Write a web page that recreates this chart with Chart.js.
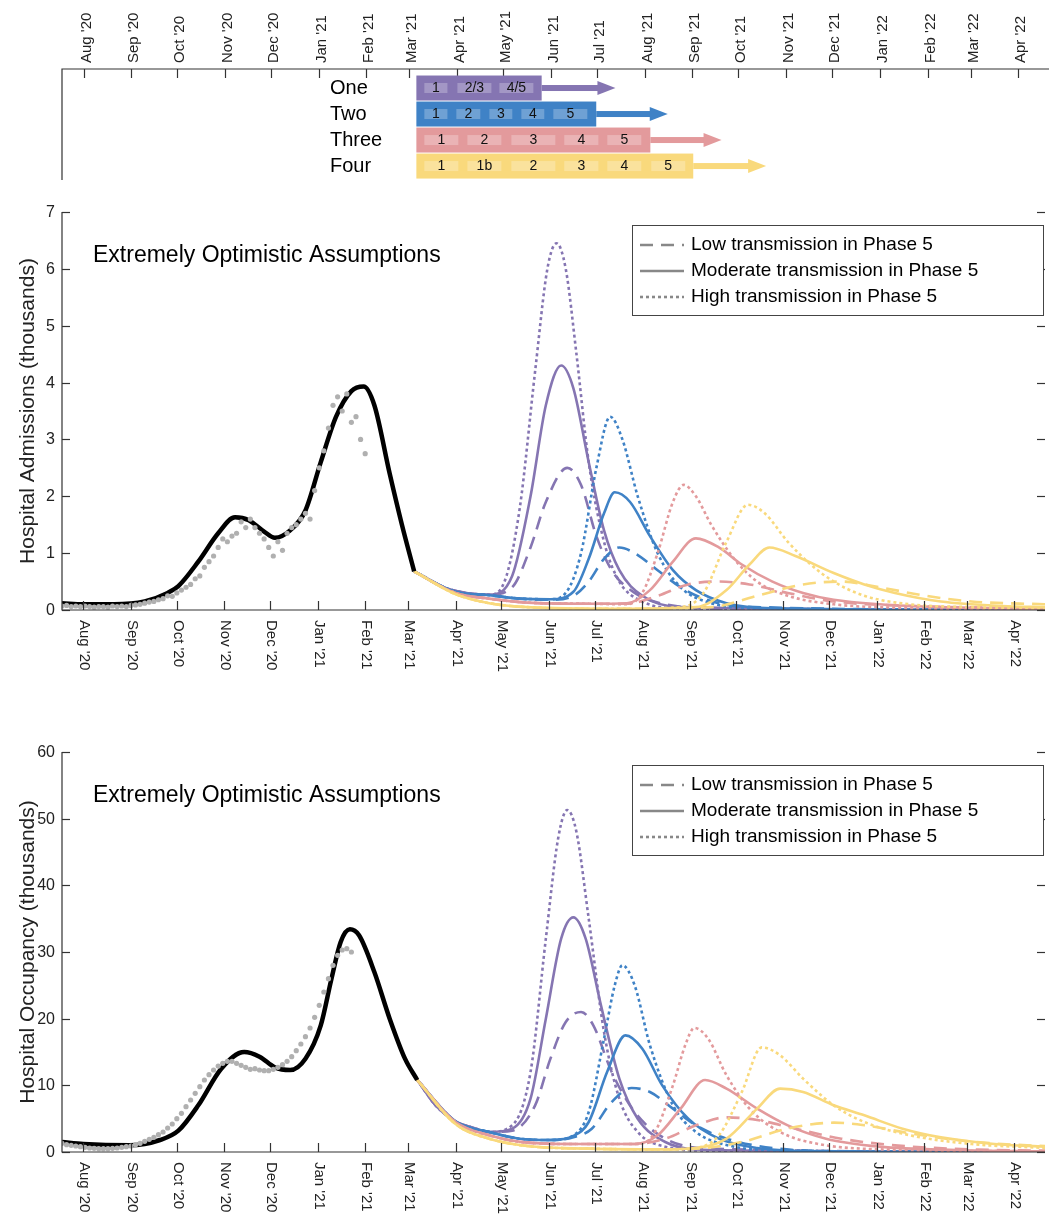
<!DOCTYPE html>
<html><head><meta charset="utf-8">
<script src="https://cdn.jsdelivr.net/npm/chart.js@4.4.1/dist/chart.umd.min.js"></script>
<style>
body{margin:0;background:#fff;width:1049px;height:1214px;position:relative;overflow:hidden}
canvas{position:absolute;left:0}
#road{top:0px}
#adm{top:195px}
#occ{top:735px}
</style></head><body>
<canvas id="road" width="1049" height="185"></canvas>
<canvas id="adm" width="1049" height="495"></canvas>
<canvas id="occ" width="1049" height="479"></canvas>
<script>
// x is days since 1 Aug 2020
const X_MIN = -14, X_MAX = 628;
const monthDays = [0,31,61,92,122,153,184,212,243,273,304,334,365,396,426,457,487,518,549,577,608];
const monthLabels = ["Aug '20","Sep '20","Oct '20","Nov '20","Dec '20","Jan '21","Feb '21","Mar '21","Apr '21","May '21","Jun '21","Jul '21","Aug '21","Sep '21","Oct '21","Nov '21","Dec '21","Jan '22","Feb '22","Mar '22","Apr '22"];

const PURPLE='#8575b2', BLUE='#3f82c6', PINK='#e39a9c', YELLOW='#f9d97c';

// roadmap
const roadNames = ['One','Two','Three','Four'];
const roadColors = [PURPLE, BLUE, PINK, YELLOW];
const roadStart = 216.5;
const roadEnd = [298, 333.5, 368.7, 396.6];
const roadArrow = [346, 380, 415, 444];
const stepLabels = [['1','2/3','4/5'],['1','2','3','4','5'],['1','2','3','4','5'],['1','1b','2','3','4','5']];
const stepFrom = [[221.7,243.2,270.5],[221.7,242.5,264,284.8,305.6],[221.7,249.7,278.3,312.7,340.7],[221.7,249.7,278.3,312.7,340.7,369.3]];
const stepTo = [[236.7,265.3,292.6],[236.7,258.1,278.9,299.7,327.7],[243.8,271.8,306.9,334.9,362.8],[243.8,271.8,306.9,334.9,362.8,391.4]];

// admissions (thousands)
const admFit = [[-14,0.12],[0,0.1],[20,0.1],[40,0.15],[55,0.3],[62,0.42],[75,0.85],[88,1.35],[99,1.63],[108,1.58],[118,1.38],[125,1.27],[135,1.4],[145,1.75],[155,2.6],[165,3.4],[175,3.85],[183,3.93],[190,3.6],[200,2.4],[208,1.5],[216,0.68]];
const admData = [0.07,0.08,0.06,0.07,0.06,0.07,0.06,0.05,0.06,0.06,0.05,0.07,0.06,0.07,0.06,0.08,0.09,0.1,0.12,0.14,0.15,0.18,0.2,0.25,0.24,0.3,0.35,0.4,0.45,0.55,0.6,0.75,0.85,0.95,1.1,1.25,1.2,1.3,1.35,1.55,1.45,1.6,1.45,1.35,1.25,1.1,0.95,1.2,1.05,1.35,1.45,1.5,1.6,1.7,1.6,2.1,2.5,2.8,3.2,3.6,3.75,3.5,3.8,3.3,3.4,3.0,2.75];
const admPurpleLow = [[216,0.68],[235,0.4],[250,0.3],[265,0.27],[280,0.4],[292,1.1],[302,1.9],[316,2.5],[325,2.2],[335,1.3],[345,0.7],[360,0.3],[380,0.1],[420,0.02],[628,0]];
const admPurpleMod = [[216,0.68],[235,0.4],[250,0.3],[265,0.27],[280,0.6],[292,2.0],[302,3.6],[312,4.3],[320,3.9],[330,2.6],[340,1.4],[350,0.7],[365,0.25],[390,0.05],[628,0]];
const admPurpleHigh = [[216,0.68],[235,0.4],[250,0.3],[265,0.27],[275,0.5],[285,1.8],[295,4.2],[303,6.0],[309,6.45],[315,6.0],[322,4.5],[330,2.6],[340,1.2],[350,0.5],[365,0.15],[390,0.03],[628,0]];
const admBlueLow = [[216,0.68],[243,0.32],[265,0.26],[285,0.2],[305,0.18],[320,0.25],[330,0.5],[340,0.9],[350,1.1],[360,1.0],[375,0.7],[390,0.4],[405,0.2],[430,0.06],[628,0]];
const admBlueMod = [[216,0.68],[243,0.32],[265,0.26],[285,0.2],[305,0.19],[320,0.32],[330,0.9],[340,1.7],[347,2.07],[357,1.9],[370,1.3],[385,0.7],[400,0.35],[420,0.12],[450,0.03],[628,0]];
const admBlueHigh = [[216,0.68],[243,0.32],[265,0.26],[285,0.2],[305,0.19],[315,0.3],[325,1.0],[335,2.5],[344,3.4],[352,3.0],[362,2.0],[375,1.0],[390,0.4],[410,0.12],[440,0.03],[628,0]];
const admPinkLow = [[216,0.68],[243,0.3],[265,0.2],[290,0.13],[330,0.11],[355,0.11],[375,0.25],[395,0.45],[415,0.5],[435,0.45],[460,0.3],[490,0.15],[530,0.08],[628,0.03]];
const admPinkMod = [[216,0.68],[243,0.3],[265,0.2],[290,0.13],[330,0.11],[355,0.12],[370,0.35],[385,0.85],[400,1.26],[415,1.1],[430,0.8],[450,0.5],[470,0.3],[490,0.18],[520,0.1],[560,0.05],[628,0.02]];
const admPinkHigh = [[216,0.68],[243,0.3],[265,0.2],[290,0.13],[330,0.11],[355,0.1],[365,0.3],[375,1.0],[385,1.9],[392,2.2],[400,2.0],[410,1.5],[425,0.9],[440,0.5],[460,0.25],[490,0.1],[530,0.04],[628,0]];
const admYellowLow = [[216,0.68],[243,0.28],[265,0.12],[290,0.05],[350,0.02],[410,0.05],[440,0.25],[470,0.45],[495,0.5],[520,0.4],[550,0.25],[580,0.15],[628,0.1]];
const admYellowMod = [[216,0.68],[243,0.28],[265,0.12],[290,0.05],[350,0.02],[400,0.05],[420,0.35],[435,0.8],[448,1.1],[465,0.95],[490,0.65],[510,0.45],[530,0.3],[560,0.15],[600,0.07],[628,0.05]];
const admYellowHigh = [[216,0.68],[243,0.28],[265,0.12],[290,0.05],[350,0.02],[390,0.05],[405,0.3],[420,1.2],[434,1.85],[445,1.7],[460,1.2],[475,0.8],[490,0.5],[510,0.25],[540,0.1],[580,0.05],[628,0.03]];

// occupancy (thousands)
const occFit = [[-14,1.5],[0,1.2],[30,1.0],[50,1.8],[62,3.2],[75,7],[90,12.5],[105,15],[115,14.3],[125,12.7],[135,12.3],[145,14],[155,19],[162,26],[168,31.5],[174,33.4],[180,32.5],[190,27],[200,20],[210,14],[218,10.8]];
const occData = [1.3,1.1,1.0,0.9,0.8,0.7,0.6,0.55,0.5,0.5,0.5,0.55,0.6,0.7,0.8,0.9,1.1,1.3,1.6,1.9,2.2,2.6,3.0,3.6,4.2,5.0,5.8,6.8,7.8,8.8,9.8,10.8,11.6,12.3,12.9,13.3,13.6,13.6,13.3,13,12.7,12.4,12.5,12.3,12.2,12.2,12.4,12.7,13.1,13.6,14.3,15.2,16.2,17.3,18.6,20.2,22,24,26,28,29.5,30.3,30.5,30];
const occPurpleLow = [[218,10.8],[230,7],[243,4.6],[255,3.6],[265,3.0],[280,3.2],[295,7],[305,14],[315,19.5],[325,21],[333,19],[345,12],[360,6],[380,2],[410,0.5],[628,0]];
const occPurpleMod = [[218,10.8],[230,7],[243,4.6],[255,3.6],[265,3.0],[280,3.5],[292,8],[302,20],[312,32],[320,35.2],[328,32],[338,22],[350,11],[362,5],[380,1.5],[410,0.3],[628,0]];
const occPurpleHigh = [[218,10.8],[230,7],[243,4.6],[255,3.6],[265,3.0],[280,4],[292,12],[302,32],[310,47],[316,51.3],[322,48],[330,35],[340,18],[350,8],[362,3],[380,0.8],[410,0.2],[628,0]];
const occBlueLow = [[218,10.8],[243,4.6],[265,3.0],[285,2.0],[305,1.8],[320,2.2],[332,3.5],[345,7.5],[358,9.6],[370,9],[385,6.5],[400,4],[420,2],[450,0.6],[500,0.1],[628,0]];
const occBlueMod = [[218,10.8],[243,4.6],[265,3.0],[285,2.0],[305,1.8],[320,2.4],[330,4.5],[342,12],[354,17.5],[365,15.5],[378,10],[395,5],[415,2],[440,0.6],[480,0.1],[628,0]];
const occBlueHigh = [[218,10.8],[243,4.6],[265,3.0],[285,2.0],[305,1.8],[320,2.5],[330,6],[340,17],[347,25],[352,28],[360,25],[370,16],[385,7],[400,3],[425,0.8],[460,0.2],[628,0]];
const occPinkLow = [[218,10.8],[243,4.5],[265,2.5],[290,1.4],[320,1.2],[360,1.2],[380,2],[400,4],[420,5.2],[440,4.8],[465,3.5],[495,2],[530,1],[580,0.4],[628,0.2]];
const occPinkMod = [[218,10.8],[243,4.5],[265,2.5],[290,1.4],[320,1.2],[360,1.2],[375,2.5],[390,6.5],[406,10.8],[420,9.5],[440,6.5],[460,4],[485,2],[520,0.8],[570,0.3],[628,0.1]];
const occPinkHigh = [[218,10.8],[243,4.5],[265,2.5],[290,1.4],[320,1.2],[360,1.2],[372,2.5],[385,10],[393,16],[399,18.6],[408,17],[420,11.5],[435,6.5],[455,3],[480,1.2],[520,0.4],[628,0.1]];
const occYellowLow = [[218,10.8],[243,4.2],[265,2.0],[290,0.9],[330,0.5],[380,0.4],[400,0.5],[430,1.5],[460,3.5],[490,4.4],[510,4],[540,2.8],[570,1.8],[600,1.2],[628,0.9]];
const occYellowMod = [[218,10.8],[243,4.2],[265,2.0],[290,0.9],[330,0.5],[380,0.4],[400,0.6],[420,2],[440,6.5],[455,9.5],[470,9],[490,7],[510,5.5],[535,3.5],[560,2.2],[595,1.2],[628,0.8]];
const occYellowHigh = [[218,10.8],[243,4.2],[265,2.0],[290,0.9],[330,0.5],[380,0.4],[400,0.6],[415,2.5],[430,9],[443,15.7],[455,14.5],[470,11],[490,7],[510,4.5],[540,2.5],[580,1.2],[628,0.6]];

const legendLabels = ['Low transmission in Phase 5','Moderate transmission in Phase 5','High transmission in Phase 5'];
const FONT = '"Liberation Sans", Arial, sans-serif';
const DASH = {low:[13,8], mod:[], high:[3,3]};

const pts = a => a.map(p => ({x:p[0], y:p[1]}));
const line = (d, color, style, w) => ({data:pts(d), borderColor:color, borderWidth:w||2.6, borderDash:DASH[style]||[], pointRadius:0, cubicInterpolationMode:'monotone', fill:false});

// draws MATLAB-like axes: inward ticks, rotated month labels, title, legend
const frame = {
  id:'frame',
  afterDraw(chart, args, o){
    const c = chart.ctx, a = chart.chartArea, xs = chart.scales.x, ys = chart.scales.y;
    c.save();
    c.strokeStyle = '#333'; c.lineWidth = 1.2; c.fillStyle = '#222';
    c.beginPath();
    if (o.top){ c.moveTo(a.left, a.bottom); c.lineTo(a.left, a.top); c.lineTo(a.right, a.top); }
    else { c.moveTo(a.left, a.top); c.lineTo(a.left, a.bottom); c.lineTo(a.right, a.bottom); }
    c.stroke();
    c.font = '15px ' + FONT;
    monthDays.forEach((d, i) => {
      const px = Math.round(xs.getPixelForValue(d)) + 0.5;
      c.beginPath();
      if (o.top){ c.moveTo(px, a.top); c.lineTo(px, a.top + 9); }
      else { c.moveTo(px, a.bottom); c.lineTo(px, a.bottom - 9); }
      c.stroke();
      c.save();
      if (o.top){
        c.translate(px + 2, a.top - 6); c.rotate(-Math.PI/2);
      } else {
        c.translate(px + 1, a.bottom + 10); c.rotate(Math.PI/2);
      }
      c.textAlign = 'left'; c.textBaseline = 'middle';
      c.fillText(monthLabels[i], 0, 0);
      c.restore();
    });
    if (!o.top){
      c.font = '16px ' + FONT; c.textAlign = 'right'; c.textBaseline = 'middle';
      for (let v = ys.min; v <= ys.max; v += o.step){
        const py = Math.round(ys.getPixelForValue(v)) + 0.5;
        c.beginPath(); c.moveTo(a.left, py); c.lineTo(a.left + 8, py); c.stroke();
        c.beginPath(); c.moveTo(a.right, py); c.lineTo(a.right - 8, py); c.stroke();
        c.fillText(String(v), a.left - 7, py);
      }
      c.save();
      c.font = '21px ' + FONT; c.textAlign = 'center'; c.textBaseline = 'middle';
      c.translate(28, (a.top + a.bottom)/2); c.rotate(-Math.PI/2);
      c.fillText(o.yTitle, 0, 0);
      c.restore();
      c.font = '23px ' + FONT; c.textAlign = 'left'; c.textBaseline = 'middle';
      c.fillStyle = '#000';
      c.fillText('Extremely Optimistic Assumptions', 93, a.top + 44);
      // legend
      const lx = 632, ly = a.top + 13;
      c.fillStyle = '#fff'; c.fillRect(lx, ly, 411, 90);
      c.strokeStyle = '#444'; c.lineWidth = 1; c.strokeRect(lx + 0.5, ly + 0.5, 411, 90);
      c.font = '19px ' + FONT; c.fillStyle = '#000';
      ['low','mod','high'].forEach((s, i) => {
        const yy = ly + 20 + i * 26;
        c.strokeStyle = '#888'; c.lineWidth = 2.6; c.setLineDash(DASH[s]);
        c.beginPath(); c.moveTo(lx + 8, yy); c.lineTo(lx + 52, yy); c.stroke();
        c.setLineDash([]);
        c.fillText(legendLabels[i], lx + 59, yy);
      });
    }
    c.restore();
  }
};

// roadmap bars with arrows, drawn through the scales
const roadmap = {
  id:'roadmap',
  afterDraw(chart){
    const c = chart.ctx, xs = chart.scales.x, ys = chart.scales.y;
    c.save();
    roadNames.forEach((n, r) => {
      const yc = ys.getPixelForValue(r + 1);
      const x0 = xs.getPixelForValue(roadStart), x1 = xs.getPixelForValue(roadEnd[r]), x2 = xs.getPixelForValue(roadArrow[r]);
      c.fillStyle = roadColors[r];
      c.fillRect(x0, yc - 12.5, x1 - x0, 25);
      c.fillRect(x1, yc - 3, x2 - 16 - x1, 6);
      c.beginPath(); c.moveTo(x2 - 18, yc - 7); c.lineTo(x2, yc); c.lineTo(x2 - 18, yc + 7); c.closePath(); c.fill();
      c.fillStyle = '#000'; c.font = '20px ' + FONT; c.textAlign = 'left'; c.textBaseline = 'middle';
      c.fillText(n, 330, yc);
      c.font = '14px ' + FONT; c.textAlign = 'center';
      stepLabels[r].forEach((t, k) => {
        const a = xs.getPixelForValue(stepFrom[r][k]), b = xs.getPixelForValue(stepTo[r][k]);
        c.fillStyle = 'rgba(255,255,255,0.25)'; c.fillRect(a, yc - 5, b - a, 10);
        c.fillStyle = '#111'; c.fillText(t, (a + b)/2, yc + 0.5);
      });
    });
    c.restore();
  }
};

const baseScales = (ymin, ymax) => ({
  x:{type:'linear', min:X_MIN, max:X_MAX, display:false},
  y:{type:'linear', min:ymin, max:ymax, display:false}
});

new Chart(document.getElementById('road'), {
  type:'scatter',
  data:{datasets:[]},
  options:{responsive:false, animation:false, layout:{padding:{left:62, right:0, top:69, bottom:5}},
    scales:{x:{type:'linear', min:X_MIN, max:X_MAX, display:false}, y:{type:'linear', min:0.269, max:4.536, reverse:true, display:false}},
    plugins:{legend:{display:false}, tooltip:{enabled:false}, frame:{top:true}}},
  plugins:[frame, roadmap]
});

function panel(id, fit, data, series, ymax, step, title, padBottom){
  const dots = data.map((v, i) => ({x:-14 + 3*i, y:v}));
  const ds = [
    {type:'scatter', data:dots, pointRadius:2.6, pointBackgroundColor:'#b0b0b0', pointBorderWidth:0, showLine:false},
    line(fit, '#000', 'mod', 4.5)
  ];
  const cols = [YELLOW, PINK, BLUE, PURPLE];
  cols.forEach((col, i) => ['low','mod','high'].forEach((s, j) => ds.push(line(series[i][j], col, s))));
  new Chart(document.getElementById(id), {
    type:'line',
    data:{datasets:ds},
    options:{responsive:false, animation:false, layout:{padding:{left:62, right:0, top:17, bottom:padBottom}},
      scales:baseScales(0, ymax),
      plugins:{legend:{display:false}, tooltip:{enabled:false}, frame:{step:step, yTitle:title}}},
    plugins:[frame]
  });
}

panel('adm', admFit, admData, [
  [admYellowLow, admYellowMod, admYellowHigh],
  [admPinkLow, admPinkMod, admPinkHigh],
  [admBlueLow, admBlueMod, admBlueHigh],
  [admPurpleLow, admPurpleMod, admPurpleHigh]
], 7, 1, 'Hospital Admissions (thousands)', 80);

panel('occ', occFit, occData, [
  [occYellowLow, occYellowMod, occYellowHigh],
  [occPinkLow, occPinkMod, occPinkHigh],
  [occBlueLow, occBlueMod, occBlueHigh],
  [occPurpleLow, occPurpleMod, occPurpleHigh]
], 60, 10, 'Hospital Occupancy (thousands)', 62);
</script>
</body></html>
